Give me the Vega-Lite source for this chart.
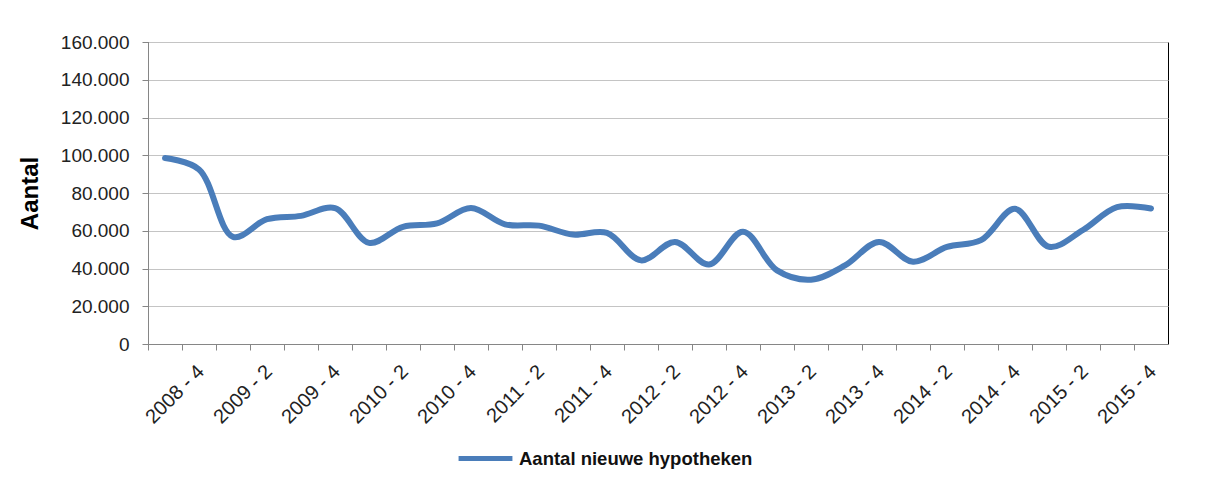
{
  "$schema": "https://vega.github.io/schema/vega-lite/v6.json",
  "autosize": {"type": "none"},
  "width": 1020,
  "height": 302,
  "padding": {"left": 148, "top": 42, "right": 60, "bottom": 136},
  "background": "#ffffff",
  "config": {
    "font": "Liberation Sans",
    "view": {"stroke": "#000000", "strokeWidth": 1}
  },
  "data": {
    "values": [
      {"kwartaal": "2008 - 3", "aantal": 98500, "serie": "Aantal nieuwe hypotheken"},
      {"kwartaal": "2008 - 4", "aantal": 92500, "serie": "Aantal nieuwe hypotheken"},
      {"kwartaal": "2009 - 1", "aantal": 56800, "serie": "Aantal nieuwe hypotheken"},
      {"kwartaal": "2009 - 2", "aantal": 66100, "serie": "Aantal nieuwe hypotheken"},
      {"kwartaal": "2009 - 3", "aantal": 67900, "serie": "Aantal nieuwe hypotheken"},
      {"kwartaal": "2009 - 4", "aantal": 72000, "serie": "Aantal nieuwe hypotheken"},
      {"kwartaal": "2010 - 1", "aantal": 53600, "serie": "Aantal nieuwe hypotheken"},
      {"kwartaal": "2010 - 2", "aantal": 62100, "serie": "Aantal nieuwe hypotheken"},
      {"kwartaal": "2010 - 3", "aantal": 63900, "serie": "Aantal nieuwe hypotheken"},
      {"kwartaal": "2010 - 4", "aantal": 72000, "serie": "Aantal nieuwe hypotheken"},
      {"kwartaal": "2011 - 1", "aantal": 63400, "serie": "Aantal nieuwe hypotheken"},
      {"kwartaal": "2011 - 2", "aantal": 62700, "serie": "Aantal nieuwe hypotheken"},
      {"kwartaal": "2011 - 3", "aantal": 58000, "serie": "Aantal nieuwe hypotheken"},
      {"kwartaal": "2011 - 4", "aantal": 58900, "serie": "Aantal nieuwe hypotheken"},
      {"kwartaal": "2012 - 1", "aantal": 44300, "serie": "Aantal nieuwe hypotheken"},
      {"kwartaal": "2012 - 2", "aantal": 54100, "serie": "Aantal nieuwe hypotheken"},
      {"kwartaal": "2012 - 3", "aantal": 42100, "serie": "Aantal nieuwe hypotheken"},
      {"kwartaal": "2012 - 4", "aantal": 59500, "serie": "Aantal nieuwe hypotheken"},
      {"kwartaal": "2013 - 1", "aantal": 39000, "serie": "Aantal nieuwe hypotheken"},
      {"kwartaal": "2013 - 2", "aantal": 34100, "serie": "Aantal nieuwe hypotheken"},
      {"kwartaal": "2013 - 3", "aantal": 41600, "serie": "Aantal nieuwe hypotheken"},
      {"kwartaal": "2013 - 4", "aantal": 54100, "serie": "Aantal nieuwe hypotheken"},
      {"kwartaal": "2014 - 1", "aantal": 43600, "serie": "Aantal nieuwe hypotheken"},
      {"kwartaal": "2014 - 2", "aantal": 51400, "serie": "Aantal nieuwe hypotheken"},
      {"kwartaal": "2014 - 3", "aantal": 55000, "serie": "Aantal nieuwe hypotheken"},
      {"kwartaal": "2014 - 4", "aantal": 71600, "serie": "Aantal nieuwe hypotheken"},
      {"kwartaal": "2015 - 1", "aantal": 51500, "serie": "Aantal nieuwe hypotheken"},
      {"kwartaal": "2015 - 2", "aantal": 60400, "serie": "Aantal nieuwe hypotheken"},
      {"kwartaal": "2015 - 3", "aantal": 72500, "serie": "Aantal nieuwe hypotheken"},
      {"kwartaal": "2015 - 4", "aantal": 71800, "serie": "Aantal nieuwe hypotheken"}
    ]
  },
  "mark": {"type": "line", "interpolate": "catmull-rom", "strokeWidth": 6, "strokeCap": "round", "strokeJoin": "round"},
  "encoding": {
    "x": {
      "field": "kwartaal",
      "type": "ordinal",
      "sort": null,
      "bandPosition": 0.5,
      "scale": {"type": "band", "paddingInner": 0, "paddingOuter": 0},
      "axis": {
        "title": null,
        "bandPosition": 0,
        "labelExpr": "(slice(datum.value, -1) == '2' || slice(datum.value, -1) == '4') ? datum.value : ''",
        "labelAngle": -45,
        "labelOverlap": false,
        "labelOffset": -5,
        "labelPadding": 11,
        "labelFontSize": 20,
        "labelColor": "#222222",
        "labelFont": "Liberation Sans",
        "tickSize": 6,
        "tickColor": "#868686",
        "domainColor": "#868686",
        "grid": false
      }
    },
    "y": {
      "field": "aantal",
      "type": "quantitative",
      "scale": {"domain": [0, 160000], "nice": false, "zero": true},
      "axis": {
        "title": "Aantal",
        "titleFont": "Liberation Sans",
        "titleFontSize": 24,
        "titleFontWeight": "bold",
        "titleColor": "#000000",
        "titlePadding": 18,
        "values": [0, 20000, 40000, 60000, 80000, 100000, 120000, 140000, 160000],
        "labelExpr": "replace(format(datum.value, ','), ',', '.')",
        "labelFontSize": 19,
        "labelColor": "#222222",
        "labelPadding": 13,
        "tickSize": 6,
        "tickColor": "#868686",
        "domainColor": "#868686",
        "gridColor": "#c4c4c4",
        "gridWidth": 1
      }
    },
    "color": {
      "field": "serie",
      "type": "nominal",
      "scale": {"range": ["#4a7dba"]},
      "legend": {
        "title": null,
        "orient": "none",
        "legendX": 308,
        "legendY": 387,
        "symbolType": "stroke",
        "symbolSize": 2900,
        "symbolStrokeWidth": 5,
        "labelFontSize": 18.5,
        "labelFontWeight": "bold",
        "labelColor": "#111111",
        "labelOffset": 4,
        "labelLimit": 500
      }
    }
  }
}
